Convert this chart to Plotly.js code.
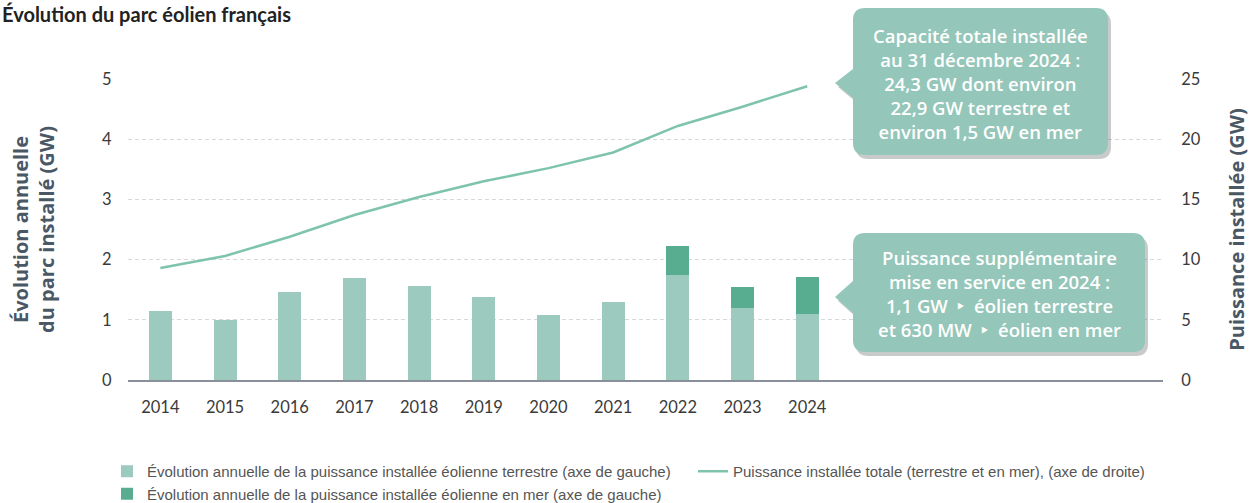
<!DOCTYPE html>
<html>
<head>
<meta charset="utf-8">
<script src="https://cdn.plot.ly/plotly-3.0.1.min.js"></script>
<style>
  html, body { margin: 0; padding: 0; background: #fff; }
  #plotArea { width: 1259px; height: 503px; }
</style>
</head>
<body>
<div id="plotArea"></div>
<script>
// annual additions (GW, left axis) and total capacity (GW, right axis)
var years = [2014, 2015, 2016, 2017, 2018, 2019, 2020, 2021, 2022, 2023, 2024];
var terrestre = [1.14, 1.00, 1.47, 1.70, 1.56, 1.38, 1.08, 1.30, 1.75, 1.19, 1.09];
var enMer = [0, 0, 0, 0, 0, 0, 0, 0, 0.48, 0.35, 0.62];
var total = [9.3, 10.3, 11.9, 13.7, 15.2, 16.5, 17.6, 18.9, 21.1, 22.7, 24.4];

var leftTicks = [0, 1, 2, 3, 4, 5];
var rightTicks = [0, 5, 10, 15, 20, 25];

// plot box in pixels
var L = 128, R = 1163, T = 79, B = 380;
function px(x) { return (x - L) / (R - L); }
function py(y) { return (B - y) / (B - T); }

// rounded box with a pointer on its left side, drawn in paper coords
function bubble(x0, y0, x1, y1, r, tx, ty, b0, b1, dx, dy) {
    dx = dx || 0; dy = dy || 0;
    var p = function (x, y) { return px(x + dx) + "," + py(y + dy); };
    return "M" + p(x0 + r, y0) +
        " L" + p(x1 - r, y0) + " Q" + p(x1, y0) + " " + p(x1, y0 + r) +
        " L" + p(x1, y1 - r) + " Q" + p(x1, y1) + " " + p(x1 - r, y1) +
        " L" + p(x0 + r, y1) + " Q" + p(x0, y1) + " " + p(x0, y1 - r) +
        " L" + p(x0, b1) + " L" + p(tx, ty) + " L" + p(x0, b0) +
        " L" + p(x0, y0 + r) + " Q" + p(x0, y0) + " " + p(x0 + r, y0) + " Z";
}

var boxFill = "#94c6b9";
var shadow = "rgba(60,70,70,0.28)";

var trace = [{
    x: years,
    y: terrestre,
    type: "bar",
    name: "Évolution annuelle de la puissance installée éolienne terrestre (axe de gauche)",
    marker: { color: "#9dcabe" },
    width: 0.355
}, {
    x: years,
    y: enMer,
    type: "bar",
    name: "Évolution annuelle de la puissance installée éolienne en mer (axe de gauche)",
    marker: { color: "#58ac90" },
    width: 0.355
}, {
    x: years,
    y: total,
    type: "scatter",
    mode: "lines",
    yaxis: "y2",
    legend: "legend2",
    name: "Puissance installée totale (terrestre et en mer), (axe de droite)",
    line: { color: "#7ec4ac", width: 2.5 }
}];

var tickFont = { family: "Lato, sans-serif", size: 16.5, color: "#3a3a3a" };
var titleFont = { family: "Open Sans, sans-serif", size: 20, color: "#4a5866", weight: "bold" };
var legendFont = { family: "Liberation Sans Narrow, sans-serif", size: 15, color: "#555" };
var boxFont = { family: "Open Sans, sans-serif", size: 18.5, color: "#fff", weight: 600 };

var layout = {
    width: 1259,
    height: 503,
    margin: { l: L, r: 1259 - R, t: T, b: 503 - B, autoexpand: false },
    paper_bgcolor: "#fff",
    plot_bgcolor: "#fff",
    barmode: "stack",
    showlegend: true,
    xaxis: {
        range: [2013.5, 2029.5],
        tickvals: years,
        ticktext: years.map(String),
        ticks: "outside",
        ticklen: 11,
        tickcolor: "rgba(0,0,0,0)",
        showgrid: false,
        zeroline: false,
        showline: true,
        linecolor: "#8a9099",
        linewidth: 2,
        tickfont: tickFont
    },
    yaxis: {
        range: [0, 5],
        tickvals: leftTicks,
        ticks: "outside",
        ticklen: 12,
        tickcolor: "rgba(0,0,0,0)",
        showgrid: true,
        gridcolor: "#d6d9dc",
        griddash: "4px,3px",
        gridwidth: 1,
        zeroline: false,
        tickfont: tickFont,
        title: { text: "Évolution annuelle<br>du parc installé (GW)", font: titleFont, standoff: 42 }
    },
    yaxis2: {
        range: [0, 25],
        tickvals: rightTicks,
        overlaying: "y",
        side: "right",
        ticks: "outside",
        ticklen: 14,
        tickcolor: "rgba(0,0,0,0)",
        showgrid: false,
        zeroline: false,
        tickfont: tickFont,
        title: { text: "Puissance installée (GW)", font: titleFont, standoff: 30 }
    },
    legend: {
        orientation: "v",
        x: px(107),
        xanchor: "left",
        y: py(455),
        yanchor: "top",
        traceorder: "normal",
        font: legendFont,
        tracegroupgap: 0
    },
    legend2: {
        orientation: "v",
        x: px(693),
        xanchor: "left",
        y: py(455),
        yanchor: "top",
        font: legendFont
    },
    shapes: [
        { type: "path", xref: "paper", yref: "paper", layer: "above",
          path: bubble(853, 8, 1108, 155, 12, 835, 83, 69, 98, 3, 4),
          fillcolor: shadow, line: { width: 0 } },
        { type: "path", xref: "paper", yref: "paper", layer: "above",
          path: bubble(853, 8, 1108, 155, 12, 835, 83, 69, 98),
          fillcolor: boxFill, line: { width: 0 } },
        { type: "path", xref: "paper", yref: "paper", layer: "above",
          path: bubble(853, 233, 1145, 352, 12, 835, 297, 281, 313, 3, 4),
          fillcolor: shadow, line: { width: 0 } },
        { type: "path", xref: "paper", yref: "paper", layer: "above",
          path: bubble(853, 233, 1145, 352, 12, 835, 297, 281, 313),
          fillcolor: boxFill, line: { width: 0 } }
    ],
    annotations: [
        { xref: "paper", yref: "paper", x: px(0), y: py(14), xanchor: "left", yanchor: "middle",
          text: "<b>Évolution du parc éolien français</b>", showarrow: false,
          font: { family: "Lato, sans-serif", size: 20, color: "#222" } },
        { xref: "paper", yref: "paper", x: px(980), y: py(83), xanchor: "center", yanchor: "middle",
          text: "Capacité totale installée<br>au 31 décembre 2024 :<br>24,3 GW dont environ<br>22,9 GW terrestre et<br>environ 1,5 GW en mer",
          showarrow: false, align: "center", font: boxFont },
        { xref: "paper", yref: "paper", x: px(999), y: py(293), xanchor: "center", yanchor: "middle",
          text: "Puissance supplémentaire<br>mise en service en 2024 :<br>1,1 GW  ‣  éolien terrestre<br>et 630 MW  ‣  éolien en mer",
          showarrow: false, align: "center", font: boxFont }
    ]
};

Plotly.newPlot("plotArea", trace, layout, { displayModeBar: false });
</script>
</body>
</html>
